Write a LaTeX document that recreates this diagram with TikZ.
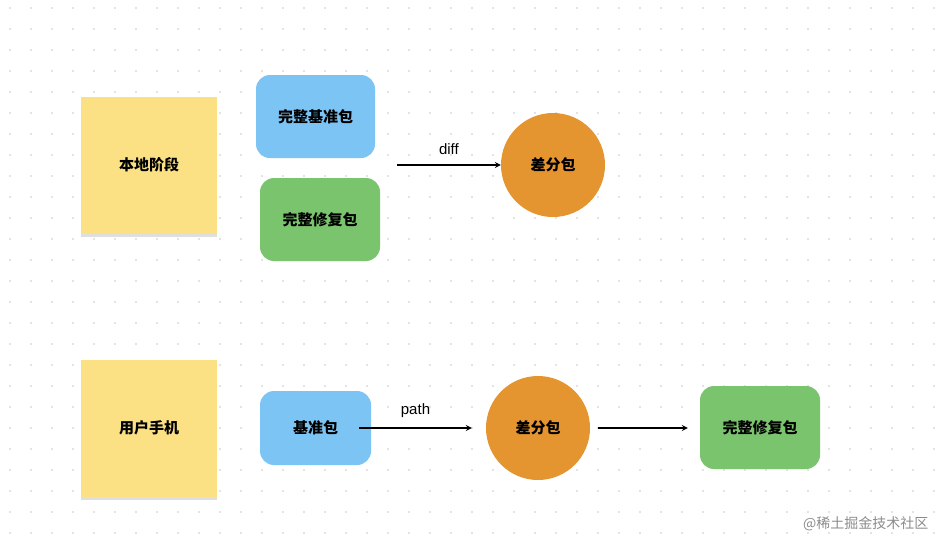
\documentclass[tikz,border=0pt]{standalone}
\usepackage{fontspec}
\setmainfont{Liberation Sans}
\newfontfamily\cjk{Noto Sans CJK SC}
\usetikzlibrary{shadows}
\definecolor{sticky}{HTML}{FBE184}
\definecolor{bluebox}{HTML}{7CC4F3}
\definecolor{greenbox}{HTML}{7BC46E}
\definecolor{orangec}{HTML}{E5952F}
\begin{document}
\begin{tikzpicture}[x=1pt,y=-1pt,
  note/.style={fill=sticky,minimum width=136pt,minimum height=137pt,font=\cjk\bfseries\fontsize{15}{18}\selectfont,drop shadow={shadow xshift=0pt,shadow yshift=-3pt,opacity=0.25}},
  pkg/.style={rounded corners=14pt,font=\cjk\bfseries\fontsize{15}{18}\selectfont},
  circ/.style={circle,fill=orangec,minimum size=104pt,font=\cjk\bfseries\fontsize{15}{18}\selectfont},
  arr/.style={-stealth,line width=1.6pt},
  lbl/.style={font=\fontsize{15}{18}\selectfont}]
\fill[white] (0,0) rectangle (936,542);
\foreach \i in {0,...,44} \foreach \j in {0,...,25}
  \fill[black!22] (10+21*\i,8+21*\j) circle (0.9);
\node[note] (n1) at (149,165) {本地阶段};
\node[note] (n2) at (149,428) {用户手机};
\node[pkg,fill=bluebox,minimum width=119pt,minimum height=83pt] (b1) at (315.5,116.5) {完整基准包};
\node[pkg,fill=greenbox,minimum width=120pt,minimum height=83pt] (g1) at (320,219.5) {完整修复包};
\node[circ] (c1) at (553,165) {差分包};
\coordinate (a1) at (397,165);
\draw[arr] (a1) -- (c1.west) node[lbl,midway,above=6pt] {diff};
\node[pkg,fill=bluebox,minimum width=111pt,minimum height=74pt] (b2) at (315.5,428) {基准包};
\node[circ] (c2) at (538,428) {差分包};
\node[pkg,fill=greenbox,minimum width=120pt,minimum height=83pt] (g2) at (760,427.5) {完整修复包};
\draw[arr] ([xshift=-12pt]b2.east|-c2) -- ([xshift=-14pt]c2.west) node[lbl,midway,above=6pt] {path};
\draw[arr] ([xshift=8pt]c2.east) -- ([xshift=-12pt]g2.west|-c2);
\node[font=\cjk\fontsize{14}{16}\selectfont,text=black!45,anchor=east] (wm) at (932,524) {@稀土掘金技术社区};
\end{tikzpicture}
\end{document}
